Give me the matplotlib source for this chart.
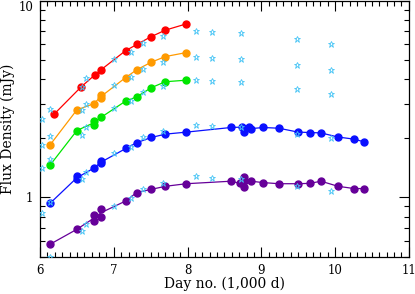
import numpy as np
import matplotlib
matplotlib.use("Agg")
import matplotlib.pyplot as plt
import matplotlib.transforms as mtransforms
from matplotlib.ticker import MultipleLocator, LogLocator, FixedLocator, NullFormatter

# epochs in units of 1,000 d, flux density in mJy
red_x = [6.19, 6.56, 6.74, 6.83, 7.16, 7.32, 7.50, 7.70, 7.985]
red_y = [2.65, 3.66, 4.19, 4.47, 5.58, 6.02, 6.56, 7.10, 7.64]

orange_x = [6.136, 6.50, 6.73, 6.83, 6.83, 7.16, 7.31, 7.51, 7.70, 7.985]
orange_y = [1.85, 2.79, 3.00, 3.22, 3.32, 4.07, 4.46, 4.88, 5.21, 5.46]

green_x = [6.136, 6.50, 6.73, 6.73, 6.83, 7.16, 7.31, 7.51, 7.70, 7.985]
green_y = [1.46, 2.19, 2.35, 2.45, 2.56, 3.09, 3.25, 3.62, 3.88, 3.95]

blue_x = [6.136, 6.50, 6.50, 6.73, 6.83, 6.83, 7.17, 7.31, 7.51, 7.70, 7.985,
          8.59, 8.74, 8.76, 8.84, 8.86, 9.03, 9.24, 9.50, 9.66, 9.81, 10.04,
          10.26, 10.39]
blue_y = [0.934, 1.24, 1.28, 1.41, 1.49, 1.54, 1.78, 1.90, 2.02, 2.10, 2.15,
          2.27, 2.28, 2.16, 2.29, 2.24, 2.27, 2.25, 2.15, 2.14, 2.13, 2.03,
          1.98, 1.92]

purple_x = [6.136, 6.50, 6.73, 6.73, 6.83, 6.83, 7.17, 7.31, 7.51, 7.70, 7.985,
            8.59, 8.71, 8.76, 8.76, 8.77, 8.86, 9.03, 9.24, 9.50, 9.66, 9.81,
            10.04, 10.26, 10.39]
purple_y = [0.578, 0.689, 0.81, 0.76, 0.877, 0.80, 0.963, 1.06, 1.10, 1.14, 1.175,
            1.21, 1.18, 1.27, 1.13, 1.21, 1.21, 1.19, 1.175, 1.175, 1.18, 1.21,
            1.14, 1.11, 1.11]

# comparison points (open stars), one row per epoch
star_x = [6.03, 6.136, 6.57, 6.62, 7.0, 7.23, 7.39, 7.67, 8.11, 8.33, 8.73, 9.49, 9.95]
star_y = [[2.51, 1.84, 1.41, 0.83],
          [2.81, 2.06, 1.57, 0.95, 0.50],
          [3.64, 2.79, 2.08, 1.24, 0.678],
          [4.04, 2.99, 2.28, 1.34, 0.73],
          [5.05, 3.74, 2.84, 1.69, 0.91],
          [5.48, 4.09, 3.10, 1.81, 0.99],
          [6.14, 4.51, 3.45, 2.04, 1.11],
          [6.64, 4.89, 3.71, 2.19, 1.19],
          [7.06, 5.19, 3.95, 2.33, 1.28],
          [6.98, 5.14, 3.93, 2.31, 1.26],
          [6.90, 5.09, 3.87, 2.28, 1.24],
          [6.38, 4.71, 3.58, 2.11, 1.15],
          [6.02, 4.44, 3.36, 2.00, 1.08]]

series = [(red_x, red_y, '#ff0000'),
          (orange_x, orange_y, '#ff9a00'),
          (green_x, green_y, '#00e600'),
          (blue_x, blue_y, '#0a10ff'),
          (purple_x, purple_y, '#660099')]

plt.rcParams['font.family'] = 'DejaVu Serif'
plt.rcParams['font.size'] = 8.5

fig = plt.figure(figsize=(4.15, 2.94), dpi=100)
ax = fig.add_axes([0.0964, 0.127, 0.8886, 0.870])

for xs, ys, col in series:
    xs = np.array(xs)
    ys = np.array(ys)
    # line goes through the mean at each epoch
    ux = np.unique(xs)
    uy = [np.exp(np.mean(np.log(ys[xs == u]))) for u in ux]
    ax.plot(ux, uy, '-', color=col, lw=0.9, zorder=2)
    ax.plot(xs, ys, 'o', color=col, ms=5.0, mec=col, zorder=3)

for x, ys in zip(star_x, star_y):
    ax.plot([x] * len(ys), ys, '*', ms=5.0, mfc='none', mec='#45c4f5',
            mew=0.6, ls='none', zorder=4)

ax.set_yscale('log')
ax.set_xlim(6, 11)
ax.set_ylim(0.5, 10)
ax.xaxis.set_major_locator(MultipleLocator(1))
ax.xaxis.set_minor_locator(MultipleLocator(0.1))
ax.yaxis.set_major_locator(FixedLocator([1, 10]))
ax.yaxis.set_major_formatter(plt.FuncFormatter(lambda v, p: '%g' % v))
ax.yaxis.set_minor_locator(LogLocator(base=10, subs=np.arange(2, 10)))
ax.yaxis.set_minor_formatter(NullFormatter())
ax.tick_params(which='both', direction='in', top=True, right=True, width=0.8)
ax.tick_params(which='major', length=7, pad=5)
ax.tick_params(which='minor', length=3.5)
for s in ax.spines.values():
    s.set_linewidth(0.9)

# nudge the top "10" label down so it stays inside the figure
fig.canvas.draw()
for lab in ax.get_yticklabels():
    if lab.get_text() == '10':
        lab.set_transform(lab.get_transform() +
                          mtransforms.ScaledTranslation(0, -4 / 72, fig.dpi_scale_trans))

ax.set_xlabel('Day no. (1,000 d)', fontsize=10)
ax.set_ylabel('Flux Density (mJy)', fontsize=10)
ax.xaxis.set_label_coords(0.5, -0.077)
ax.yaxis.set_label_coords(-0.068, 0.5)

fig.savefig('out.png', dpi=100)
